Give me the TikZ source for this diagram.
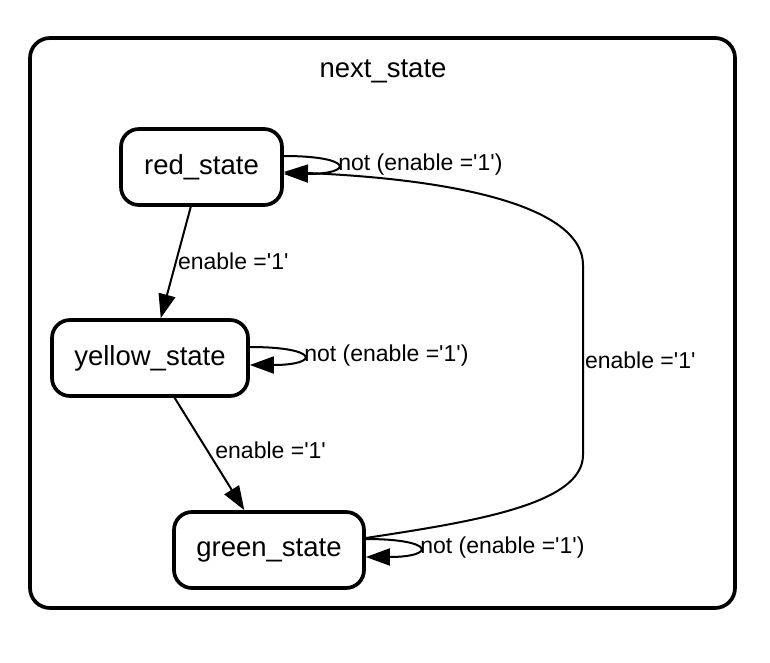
\documentclass[tikz,border=0pt]{standalone}
\usepackage{fontspec}
\setmainfont{Liberation Sans}[Ligatures=TeXOff]
\usetikzlibrary{arrows.meta,calc}
\tikzset{
  statebox/.style={draw,line width=3.7pt,rounded corners=18pt,inner sep=0pt,
    minimum height=76pt,font=\fontsize{27.5}{32}\selectfont},
  edge/.style={line width=2pt,-{Triangle[length=24pt,width=17pt]}},
  elabel/.style={font=\fontsize{23}{27}\selectfont,inner sep=1pt,anchor=west},
}
\begin{document}
\begin{tikzpicture}[x=1pt,y=-1pt]
\useasboundingbox (0,0) rectangle (770,663);
\node[draw,line width=3.7pt,rounded corners=20pt,minimum width=705pt,minimum height=570pt,inner sep=0pt] (cluster) at (382.5,323) {};
\node[font=\fontsize{27.5}{32}\selectfont] (title) at (383,71) {next\_state};
\node[statebox,minimum width=161pt] (red) at (201.5,167) {red\_state};
\node[statebox,minimum width=196pt] (yellow) at (150,358) {yellow\_state};
\node[statebox,minimum width=190pt] (green) at (269,550) {green\_state};
% transitions
\draw[edge] (red) -- node[elabel,pos=0.49] {enable ='1'} (yellow);
\draw[edge] (yellow) -- node[elabel,pos=0.47,xshift=6pt] {enable ='1'} (green);
\draw[edge] ([yshift=12pt]green.east) .. controls (470,522) and (583,505) .. (583,455)
  -- node[elabel,pos=0.5,inner sep=1pt] {enable ='1'} (583,265)
  .. controls (583,210) and (470,180) .. ([yshift=-5pt]red.east);
% self loops
\draw[edge] ([yshift=11pt]red.east) .. controls +(70pt,0pt) and +(70pt,0pt) .. node[elabel,pos=0.5] {not (enable ='1')} ([yshift=-7pt]red.east);
\draw[edge] ([yshift=11pt]yellow.east) .. controls +(70pt,0pt) and +(70pt,0pt) .. node[elabel,pos=0.5] {not (enable ='1')} ([yshift=-7pt]yellow.east);
\draw[edge] ([yshift=11pt]green.east) .. controls +(70pt,0pt) and +(70pt,0pt) .. node[elabel,pos=0.5] {not (enable ='1')} ([yshift=-7pt]green.east);
\end{tikzpicture}
\end{document}
